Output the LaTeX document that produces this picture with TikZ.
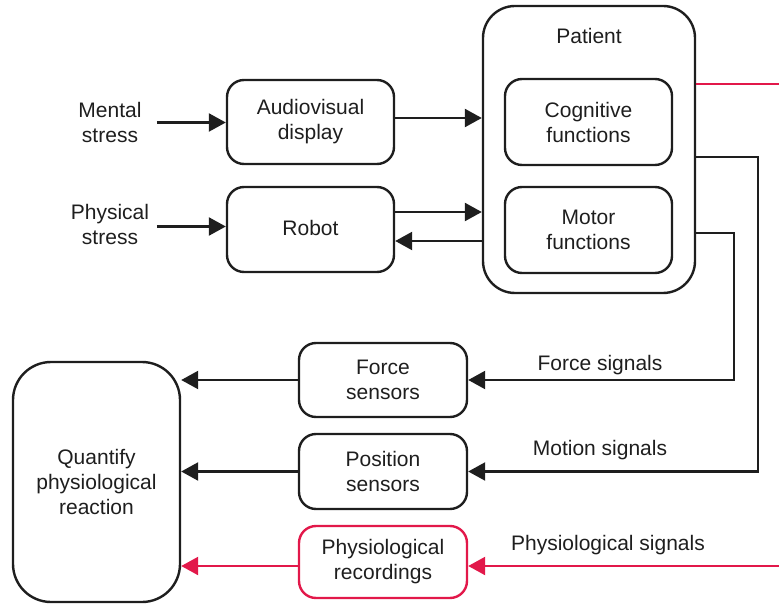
\documentclass[tikz,border=0pt]{standalone}
\usepackage{fontspec}
\setmainfont{Liberation Sans}
\usetikzlibrary{arrows.meta,positioning}
\definecolor{ink}{RGB}{30,30,30}
\definecolor{sigred}{RGB}{226,24,74}
\begin{document}
\begin{tikzpicture}[x=1pt,y=-1pt,
  font=\fontsize{21}{25}\selectfont,
  every node/.style={text=ink, align=center},
  box/.style={draw=ink, line width=2.4pt, rounded corners=17pt, inner sep=0pt},
  redbox/.style={box, draw=sigred},
  arr/.style={draw=ink, line width=2.4pt, -{Triangle[length=17pt,width=18pt]}},
  redarr/.style={arr, draw=sigred, -{Triangle[length=17pt,width=18pt,fill=sigred]}},
  redline/.style={draw=sigred, line width=2.4pt}]
\useasboundingbox (0,0) rectangle (779,604);

% patient and its functions
\node[box, rounded corners=32pt, minimum width=212pt, minimum height=287pt] (patient) at (589,149.5) {};
\node (ptlabel) at (589,36) {Patient};
\node[box, minimum width=167pt, minimum height=86pt] (cog) at (588.5,122) {Cognitive\\functions};
\node[box, minimum width=167pt, minimum height=86pt] (motor) at (588.5,230) {Motor\\functions};

% stimuli
\node (mental) at (110,122) {Mental\\stress};
\node (physical) at (110,224) {Physical\\stress};
\node[box, minimum width=167pt, minimum height=84pt] (av) at (310.5,122) {Audiovisual\\display};
\node[box, minimum width=167pt, minimum height=85pt] (robot) at (310.5,229.5) {\raisebox{3.5pt}{Robot}};

% sensors and recordings
\node[box, minimum width=168pt, minimum height=74pt] (force) at (383,380) {Force\\sensors};
\node[box, minimum width=168pt, minimum height=75pt] (pos) at (383,471.5) {Position\\sensors};
\node[redbox, minimum width=168pt, minimum height=72pt] (rec) at (383,562) {Physiological\\recordings};
\node[box, rounded corners=38pt, minimum width=167pt, minimum height=240pt] (quant) at (96.5,482) {Quantify\\physiological\\reaction};

% signal labels
\node (flabel) at (600,365) {Force signals};
\node (mlabel) at (600,450) {Motion signals};
\node (plabel) at (608,545) {Physiological signals};

\coordinate (edgeA) at (779,84);
\coordinate (edgeB) at (779,566);

% inputs
\draw[arr] ([xshift=-69pt,yshift=-0.5pt]av.west) -- ([yshift=-0.5pt]av.west);
\draw[arr] ([xshift=-69pt,yshift=3pt]robot.west) -- ([yshift=3pt]robot.west);
\draw[arr] ([yshift=4pt]av.east) -- ([yshift=4pt]av.east -| patient.west);
\draw[arr] ([yshift=17.5pt]robot.east) -- ([yshift=17.5pt]robot.east -| patient.west);
\draw[arr] ([yshift=-11.5pt]robot.east -| patient.west) -- ([yshift=-11.5pt]robot.east);

% outputs of the patient
\draw[redline] ([yshift=65.5pt]patient.east) -- (edgeA);
\draw[arr] ([yshift=-7.5pt]patient.east) -| ([xshift=290pt]pos.east) -- (pos.east);
\draw[arr] ([yshift=-83.5pt]patient.east) -| ([xshift=266pt]force.east) -- (force.east);
\draw[redarr] (edgeB) -- (edgeB -| rec.east);

% into quantification
\draw[arr] (force.west) -- (force.west -| quant.east);
\draw[arr] (pos.west) -- (pos.west -| quant.east);
\draw[redarr] ([yshift=-4pt]rec.west) -- ([yshift=-4pt]rec.west -| quant.east);
\end{tikzpicture}
\end{document}
